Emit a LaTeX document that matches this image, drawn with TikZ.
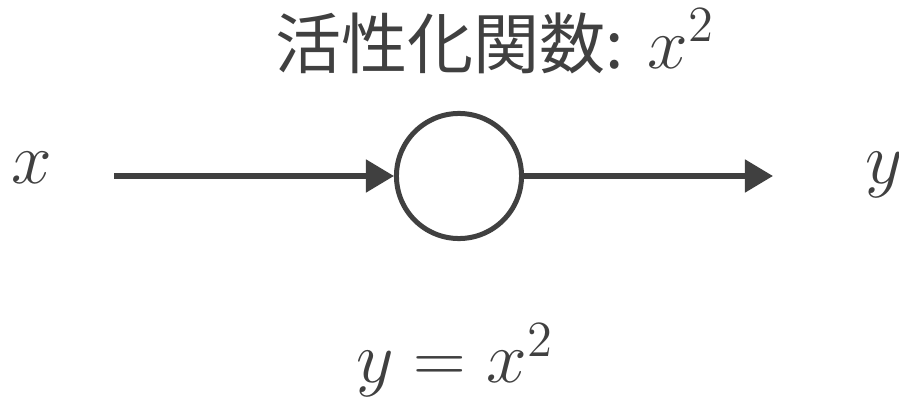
\documentclass[tikz,border=0pt]{standalone}
\usepackage{fontspec}
\usepackage{amsmath}
\usetikzlibrary{arrows.meta}
\newfontfamily\jpfont{Noto Sans CJK JP}
\definecolor{inkGray}{RGB}{64,64,64}
\newcommand{\BigText}{\fontsize{18.8}{22}\selectfont}
\newcommand{\BigMath}[1]{{\fontsize{21}{24}\selectfont$#1$}}

\begin{document}
\begin{tikzpicture}[x=0.01cm,y=-0.01cm,
  label/.style={text=inkGray,font=\BigText,inner sep=0pt,anchor=base},
  wire/.style={draw=inkGray,line width=0.05cm,-{Triangle[length=0.28cm,width=0.32cm]}}]
\useasboundingbox (0,0) rectangle (899,409);
\node[circle,draw=inkGray,line width=0.05cm,minimum size=1.25cm,inner sep=0pt] (unit) at (459,176) {};
\node[label] (title) at (495,68) {\jpfont 活性化関数:\hspace{0.35em}\BigMath{x^2}};
\node[label] (inX) at (32,183) {\BigMath{x}};
\node[label] (outY) at (884,183) {\BigMath{y}};
\node[label] (rule) at (455,383) {\BigMath{y = x^2}};
\coordinate (inStart) at (114,176);
\coordinate (outEnd) at (773,176);
\draw[wire] (inStart) -- (unit.west);
\draw[wire] (unit.east) -- (outEnd);
\end{tikzpicture}
\end{document}
